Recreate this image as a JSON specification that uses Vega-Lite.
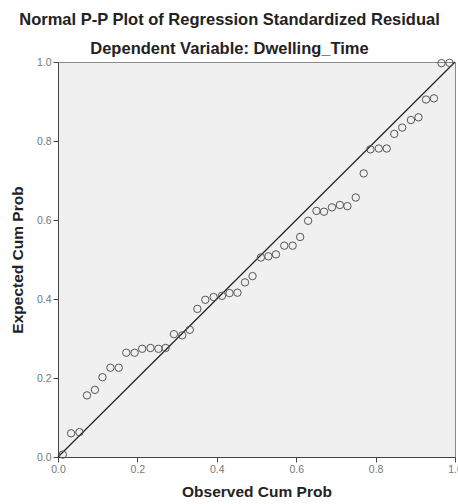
{
  "$schema": "https://vega.github.io/schema/vega-lite/v6.json",
  "width": 397,
  "height": 395,
  "autosize": {"type": "none"},
  "padding": {"left": 58, "top": 62, "right": 3, "bottom": 47},
  "background": "white",
  "title": {
    "text": "Normal P-P Plot of Regression Standardized Residual",
    "subtitle": "Dependent Variable: Dwelling_Time",
    "anchor": "middle",
    "frame": "group",
    "dx": -27,
    "offset": 0,
    "font": "Liberation Sans",
    "fontSize": 16.5,
    "fontWeight": "bold",
    "color": "#222222",
    "subtitleFont": "Liberation Sans",
    "subtitleFontSize": 16.5,
    "subtitleFontWeight": "bold",
    "subtitleColor": "#222222",
    "subtitlePadding": 12
  },
  "config": {
    "view": {"fill": "#f0f0f0", "stroke": "#8a8a8a", "strokeWidth": 1},
    "axis": {
      "grid": false,
      "domainColor": "#444444",
      "tickColor": "#444444",
      "tickSize": 5,
      "labelFont": "Liberation Sans",
      "labelFontSize": 10.5,
      "labelColor": "#777777",
      "labelPadding": 2,
      "titleFont": "Liberation Sans",
      "titleFontSize": 15.5,
      "titleFontWeight": "bold",
      "titleColor": "#222222"
    }
  },
  "datasets": {
    "pts": [
      {"obs": 0.012, "exp": 0.006},
      {"obs": 0.033, "exp": 0.060},
      {"obs": 0.054, "exp": 0.063},
      {"obs": 0.073, "exp": 0.156},
      {"obs": 0.093, "exp": 0.170},
      {"obs": 0.112, "exp": 0.202},
      {"obs": 0.132, "exp": 0.226},
      {"obs": 0.153, "exp": 0.226},
      {"obs": 0.172, "exp": 0.264},
      {"obs": 0.193, "exp": 0.264},
      {"obs": 0.212, "exp": 0.274},
      {"obs": 0.233, "exp": 0.276},
      {"obs": 0.253, "exp": 0.274},
      {"obs": 0.271, "exp": 0.276},
      {"obs": 0.292, "exp": 0.311},
      {"obs": 0.313, "exp": 0.308},
      {"obs": 0.332, "exp": 0.322},
      {"obs": 0.351, "exp": 0.375},
      {"obs": 0.371, "exp": 0.398},
      {"obs": 0.392, "exp": 0.405},
      {"obs": 0.413, "exp": 0.408},
      {"obs": 0.432, "exp": 0.415},
      {"obs": 0.452, "exp": 0.416},
      {"obs": 0.471, "exp": 0.442},
      {"obs": 0.490, "exp": 0.458},
      {"obs": 0.511, "exp": 0.505},
      {"obs": 0.530, "exp": 0.508},
      {"obs": 0.549, "exp": 0.513},
      {"obs": 0.570, "exp": 0.535},
      {"obs": 0.591, "exp": 0.535},
      {"obs": 0.610, "exp": 0.557},
      {"obs": 0.630, "exp": 0.598},
      {"obs": 0.651, "exp": 0.623},
      {"obs": 0.670, "exp": 0.621},
      {"obs": 0.690, "exp": 0.632},
      {"obs": 0.710, "exp": 0.638},
      {"obs": 0.729, "exp": 0.635},
      {"obs": 0.750, "exp": 0.657},
      {"obs": 0.770, "exp": 0.718},
      {"obs": 0.787, "exp": 0.779},
      {"obs": 0.808, "exp": 0.781},
      {"obs": 0.828, "exp": 0.781},
      {"obs": 0.847, "exp": 0.818},
      {"obs": 0.867, "exp": 0.834},
      {"obs": 0.889, "exp": 0.853},
      {"obs": 0.908, "exp": 0.860},
      {"obs": 0.927, "exp": 0.905},
      {"obs": 0.947, "exp": 0.908},
      {"obs": 0.966, "exp": 0.997},
      {"obs": 0.986, "exp": 0.998}
    ],
    "diag": [
      {"obs": 0, "exp": 0},
      {"obs": 1, "exp": 1}
    ]
  },
  "layer": [
    {
      "data": {"name": "diag"},
      "mark": {"type": "line", "color": "#222222", "strokeWidth": 1.2},
      "encoding": {
        "x": {"field": "obs", "type": "quantitative"},
        "y": {"field": "exp", "type": "quantitative"}
      }
    },
    {
      "data": {"name": "pts"},
      "mark": {"type": "point", "shape": "circle", "filled": false, "size": 55, "stroke": "#555555", "strokeWidth": 1, "opacity": 1},
      "encoding": {
        "x": {
          "field": "obs", "type": "quantitative",
          "scale": {"domain": [0, 1], "nice": false, "zero": false},
          "axis": {"title": "Observed Cum Prob", "values": [0, 0.2, 0.4, 0.6, 0.8, 1], "format": ".1f", "titlePadding": 10, "labelFlush": false}
        },
        "y": {
          "field": "exp", "type": "quantitative",
          "scale": {"domain": [0, 1], "nice": false, "zero": false},
          "axis": {"title": "Expected Cum Prob", "values": [0, 0.2, 0.4, 0.6, 0.8, 1], "format": ".1f", "titlePadding": 11, "labelFlush": false}
        }
      }
    }
  ]
}
